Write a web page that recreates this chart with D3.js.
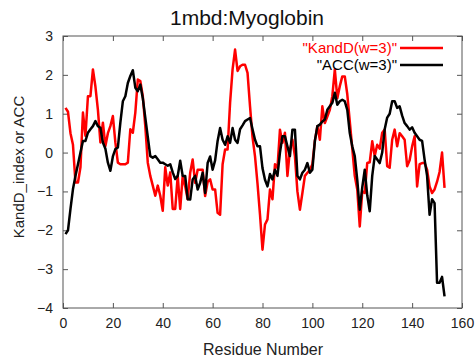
<!DOCTYPE html>
<html><head><meta charset="utf-8">
<script src="https://cdn.jsdelivr.net/npm/d3@7"></script>
<style>body{margin:0;background:#fff;}svg{display:block;font-family:"Liberation Sans",Arial,sans-serif;}</style>
</head><body>
<svg id="c" width="476" height="360"></svg>
<script>
const title = "1mbd:Myoglobin";
const xLabel = "Residue Number";
const yLabel = "KandD_index or ACC";
const seriesNames = ['"KandD(w=3)"', '"ACC(w=3)"'];
const seriesColors = ["#ff0000", "#000000"];
const xTicks = [0, 20, 40, 60, 80, 100, 120, 140, 160];
const yTicks = [-4, -3, -2, -1, 0, 1, 2, 3];
const kandd = [1.15,1.05,0.5,0.2,-0.77,-0.77,-0.38,1.03,0.43,1.45,1.45,2.14,1.7,1.1,0.26,0.77,0.17,0.5,0.68,0.94,
0.26,-0.26,-0.3,-0.3,-0.3,-0.26,0.6,0.51,1.03,1.88,1.84,1.45,0.68,-0.26,-0.6,-0.85,-1.11,-0.85,-1.11,-1.5,
-0.38,-0.85,-0.51,-1.45,-1.45,-0.6,-1.45,-0.6,-0.87,-1.2,-0.52,-0.18,-0.78,-0.44,-0.44,-0.44,-1.12,-0.75,-0.69,-0.95,
-0.95,-1.55,-1.6,-0.3,0.08,0.08,1.28,2.14,2.65,2.1,2.22,2.26,2.26,2.05,1.19,0.4,-0.1,-0.8,-1.6,-2.5,
-1.85,-1.72,-0.95,-1.2,-0.3,-0.4,0.59,0.25,0.51,-0.6,0.08,0.33,-0.09,-1.0,-1.47,-1.04,-0.6,-0.52,-0.44,-0.3,
0.3,0.68,0.33,1.19,0.76,0.93,1.1,1.45,2.14,1.4,1.71,1.96,1.96,1.5,0.8,0.1,-0.6,-0.95,-1.9,-1.0,
-1.04,-0.27,-0.25,0.29,-0.09,0.2,0.1,0.51,0.59,-0.35,-0.39,0.33,0.59,0.16,0.5,0.42,0.33,-0.35,-0.2,0.16,
0.42,-0.87,-0.3,-0.27,-0.27,-0.44,-0.87,-1.04,-0.95,-0.75,-0.5,0,-0.91];
const acc = [-2.1,-2.0,-1.45,-0.94,-0.6,-0.3,0.0,0.3,0.3,0.51,0.6,0.68,0.81,0.68,0.64,0.26,0.1,-0.26,-0.47,-0.1,
0.09,0.13,0.77,1.32,1.45,1.79,1.97,2.12,1.67,1.58,1.75,1.4,0.9,0.4,-0.09,-0.13,-0.09,-0.17,-0.26,-0.26,
-0.3,-0.34,-0.3,-0.51,-0.68,-0.6,-0.21,-0.6,-0.6,-1.2,-1.21,-0.69,-0.6,-0.95,-0.78,-0.52,-1.04,-0.27,-0.1,-0.44,
-0.2,0.3,0.63,0.33,0.2,0.42,0.25,0.63,0.33,0.25,0.6,0.7,0.81,0.85,0.89,0.6,0.33,0.16,0.16,-0.4,
-0.7,-0.87,-0.55,-0.69,-0.44,-0.6,0.0,0.42,0.42,0.16,-0.09,0.59,0.59,-0.6,-0.69,-0.52,-0.44,-0.27,-0.52,-0.44,
0.3,0.68,0.72,0.8,0.85,1.1,1.19,1.28,1.54,1.23,1.32,1.36,1.32,1.1,0.5,0.16,-0.09,-0.7,-1.47,-0.9,
-0.44,-1.1,-1.51,-0.6,-0.09,-0.18,-0.27,0.0,0.6,0.9,1.0,1.32,1.32,1.15,1.19,0.95,0.76,0.68,0.59,0.65,
0.51,0.42,0.33,0.3,-0.18,-0.6,-1.6,-1.2,-1.3,-3.35,-3.35,-3.2,-3.7];

const svg = d3.select("#c");
const L = 63, R = 462, T = 36, B = 308;
const x = d3.scaleLinear().domain([0, 160]).range([L, R]);
const y = d3.scaleLinear().domain([-4, 3]).range([B, T]);
const tl = 5;
const fmt = d3.format("d");

const axB = d3.axisBottom(x).tickValues(xTicks).tickFormat(fmt).tickSizeInner(-tl).tickSizeOuter(0).tickPadding(10);
const axT = d3.axisTop(x).tickValues(xTicks).tickSizeInner(-tl).tickSizeOuter(0).tickFormat("");
const axL = d3.axisLeft(y).tickValues(yTicks).tickFormat(fmt).tickSizeInner(-tl).tickSizeOuter(0).tickPadding(10);
const axR = d3.axisRight(y).tickValues(yTicks).tickSizeInner(-tl).tickSizeOuter(0).tickFormat("");
function style(g){ g.select(".domain").remove(); g.selectAll("line").attr("stroke","#555"); g.selectAll("text").attr("font-size","14px").attr("fill","#222").attr("font-family","Liberation Sans, Arial, sans-serif"); }
svg.append("g").attr("transform",`translate(0,${B})`).call(axB).call(style);
svg.append("g").attr("transform",`translate(0,${T})`).call(axT).call(style);
svg.append("g").attr("transform",`translate(${L},0)`).call(axL).call(style);
svg.append("g").attr("transform",`translate(${R},0)`).call(axR).call(style);
svg.append("rect").attr("x",L).attr("y",T).attr("width",R-L).attr("height",B-T).attr("fill","none").attr("stroke","#555").attr("stroke-width",1);

const line = d3.line().x((d,i)=>x(i+1)).y(d=>y(d));
[kandd, acc].forEach((s,k)=>{
  svg.append("path").datum(s).attr("d",line).attr("fill","none").attr("stroke",seriesColors[k]).attr("stroke-width",2.5).attr("stroke-linejoin","round");
});

seriesNames.forEach((n,k)=>{
  const ly = 48 + k*17;
  svg.append("text").attr("x",397).attr("y",ly+5).attr("text-anchor","end").attr("font-size","15px").attr("fill",seriesColors[k]).text(n);
  svg.append("line").attr("x1",400).attr("x2",443).attr("y1",ly).attr("y2",ly).attr("stroke",seriesColors[k]).attr("stroke-width",2.5);
});

svg.append("text").attr("x",247).attr("y",25).attr("text-anchor","middle").attr("font-size","21px").attr("fill","#111").text(title);
svg.append("text").attr("x",263).attr("y",355).attr("text-anchor","middle").attr("font-size","16px").attr("fill","#222").text(xLabel);
svg.append("text").attr("transform","translate(24,167) rotate(-90)").attr("text-anchor","middle").attr("font-size","15px").attr("fill","#222").text(yLabel);
</script>
</body></html>
